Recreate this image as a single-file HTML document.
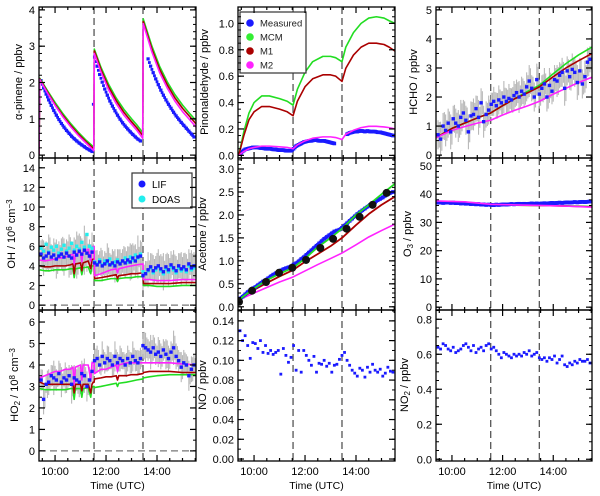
<!DOCTYPE html>
<html><head><meta charset="utf-8">
<style>
html,body{margin:0;padding:0;background:#fff;}
svg{display:block;font-family:"Liberation Sans",sans-serif;}
</style></head>
<body>
<svg id="chart" width="600" height="496" viewBox="0 0 600 496" xmlns="http://www.w3.org/2000/svg"></svg>
<script>
// ---------- data ----------
const gridT0 = 9.45, gridDt = 0.1; // measured series sampling (hours)
const injTimes = [11.53, 13.45];
const xTicks = [10, 12, 14];
const xTickLabels = ["10:00", "12:00", "14:00"];

// alpha-pinene
const apT = [9.37,9.4,9.7,10.0,10.3,10.6,10.9,11.2,11.52,11.54,11.8,12.1,12.4,12.7,13.0,13.2,13.44,13.46,13.8,14.1,14.4,14.7,15.0,15.3,15.53];
const apMCM = [0,2.12,1.78,1.45,1.15,0.88,0.64,0.42,0.22,2.92,2.42,1.95,1.57,1.26,1.0,0.84,0.62,3.75,3.0,2.45,2.02,1.67,1.38,1.13,0.95];
const apM1 = [0,2.1,1.74,1.4,1.1,0.83,0.59,0.38,0.17,2.87,2.36,1.88,1.5,1.18,0.92,0.76,0.54,3.68,2.92,2.37,1.94,1.58,1.29,1.05,0.86];
const apM2 = [0,2.08,1.71,1.37,1.06,0.79,0.55,0.34,0.12,2.8,2.29,1.8,1.42,1.1,0.85,0.69,0.46,3.62,2.84,2.28,1.85,1.49,1.2,0.96,0.77];
const apMeas = [2.05,1.85,1.68,1.52,1.37,1.23,1.1,0.98,0.87,0.77,0.68,0.6,0.52,0.45,0.39,0.33,0.28,0.23,0.18,0.14,0.1,
 2.7,2.45,2.22,2.01,1.82,1.65,1.49,1.35,1.22,1.1,0.99,0.89,0.8,0.72,0.64,0.57,0.5,0.44,0.39,
 null,null,2.65,2.45,2.27,2.1,1.94,1.79,1.65,1.52,1.4,1.29,1.18,1.08,0.99,0.9,0.82,0.74,0.66,0.58,0.5];

// OH / HO2 models
const mT = [9.4,9.6,9.8,10.0,10.2,10.4,10.6,10.7,10.75,10.8,11.0,11.05,11.1,11.3,11.4,11.45,11.5,11.53,11.55,11.8,12.0,12.2,12.4,12.45,12.5,12.8,13.0,13.2,13.45,13.47,13.7,14.0,14.5,15.0,15.53];
const ohM2 = [4.6,4.5,4.6,4.7,4.8,4.9,5.1,5.2,4.2,5.2,5.4,4.4,5.4,5.7,4.5,5.9,6.0,6.0,3.0,3.2,3.4,3.6,3.7,3.3,3.7,3.9,4.0,4.1,4.2,2.6,2.6,2.5,2.5,2.6,2.6];
const ohM1 = [4.0,3.9,3.9,4.0,4.0,4.0,4.1,4.2,3.2,4.2,4.3,3.5,4.3,4.5,3.7,4.6,4.7,4.7,2.7,2.8,2.9,3.0,3.1,2.7,3.0,3.1,3.2,3.2,3.3,2.2,2.2,2.2,2.2,2.3,2.3];
const ohMCM = [3.6,3.5,3.5,3.6,3.6,3.6,3.7,3.7,2.8,3.7,3.8,3.1,3.8,3.9,3.2,4.0,4.0,4.0,2.5,2.5,2.6,2.7,2.7,2.4,2.7,2.8,2.8,2.9,2.9,2.0,2.0,1.9,1.9,2.0,2.0];
const ohLIF = [5.2,4.8,5.0,5.3,4.9,5.1,4.7,5.0,5.2,4.9,5.3,5.0,4.8,5.4,5.1,5.5,5.2,5.6,5.3,5.0,5.4,
 4.3,4.1,4.4,4.0,4.2,4.5,4.1,4.3,4.0,4.4,4.2,4.5,4.3,4.6,4.4,4.8,4.5,4.9,5.0,
 3.0,3.2,3.6,3.9,3.5,3.8,4.0,3.7,3.4,3.9,3.6,4.1,3.8,3.5,4.0,3.7,3.9,3.6,4.2,3.8,4.0];
const ohDOAS = [5.8,5.5,6.2,5.4,5.9,5.6,6.0,5.3,5.7,6.1,5.5,5.8,6.3,5.6,6.0,5.7,6.4,5.9,7.2,6.0,5.8,
 4.4,4.2,4.6,4.1,4.5,4.3,4.7,4.2,4.4,4.6,4.3,4.5,4.8,4.4,4.9,4.6,5.1,4.8,5.2,
 3.4,3.2,3.5,3.8,3.3,3.6,3.9,3.5,3.2,3.7,3.4,3.9,3.6,3.3,3.8,3.5,3.7,3.4,4.0,3.6,3.8];
const ohErr = [1.4,1.8,1.5,1.9,1.3,1.7,2.0,1.5,1.6,1.9,1.4,2.2,1.7,1.5,2.4,1.8,1.6,2.5,1.9,1.7,2.0,
 1.2,1.5,1.1,1.6,1.3,1.8,1.2,1.4,1.7,1.3,1.5,1.2,1.6,1.4,1.9,1.5,1.7,2.2,1.6,
 1.5,1.3,1.8,1.4,1.6,1.2,1.7,1.5,1.9,1.3,1.6,1.4,1.8,1.5,1.3,1.7,1.4,1.6,1.5,1.8,1.4];

const ho2M2 = [3.4,3.5,3.6,3.7,3.7,3.8,3.8,3.9,3.1,3.9,4.0,3.3,4.0,4.0,3.3,4.1,4.1,4.1,3.6,3.8,3.8,3.9,4.0,3.7,4.0,4.1,4.1,4.1,4.1,4.1,4.1,4.1,4.1,4.05,4.0];
const ho2M1 = [3.2,3.1,3.1,3.1,3.1,3.1,3.1,3.1,2.7,3.1,3.1,2.8,3.1,3.1,2.7,3.1,3.2,3.2,3.35,3.4,3.45,3.45,3.5,3.3,3.5,3.5,3.55,3.55,3.6,3.65,3.7,3.7,3.7,3.65,3.65];
const ho2MCM = [2.9,2.85,2.85,2.85,2.85,2.85,2.9,2.9,2.4,2.9,2.9,2.5,2.9,2.95,2.5,2.95,3.0,3.0,2.95,3.0,3.05,3.1,3.15,3.0,3.15,3.2,3.25,3.3,3.35,3.4,3.45,3.5,3.55,3.55,3.55];
const ho2Meas = [3.3,2.4,3.1,3.2,3.5,3.4,3.3,3.6,3.2,3.4,3.3,3.5,3.1,3.4,3.3,3.2,3.6,3.5,3.0,3.3,3.7,
 4.2,4.3,4.0,4.4,4.1,4.3,4.2,4.0,4.4,4.1,4.3,4.2,4.0,4.3,4.1,4.4,4.2,4.1,4.3,
 4.9,4.8,4.7,4.6,4.8,4.5,4.6,4.4,4.7,4.5,4.3,4.6,4.8,4.4,4.2,3.9,4.1,4.0,3.5,3.8,4.0];
const ho2Err = [0.5,0.7,0.4,0.6,0.5,0.8,0.5,0.6,0.7,0.4,0.6,0.5,0.9,0.6,0.5,0.7,0.6,0.8,0.7,0.6,0.5,
 0.5,0.6,0.4,0.7,0.5,0.6,0.4,0.5,0.7,0.5,0.6,0.4,0.5,0.6,0.5,0.7,0.5,0.6,0.5,
 0.6,0.7,0.5,0.8,0.6,0.5,0.7,0.6,0.5,0.7,0.6,0.5,0.8,0.6,0.5,0.7,0.6,0.5,0.7,0.6,0.5];

// pinonaldehyde
const pnT = [9.4,9.6,9.8,10.0,10.3,10.6,11.0,11.3,11.53,11.7,12.0,12.3,12.7,13.0,13.2,13.45,13.6,13.9,14.2,14.5,14.8,15.1,15.3,15.53];
const pnMCM = [0,0.18,0.32,0.4,0.45,0.45,0.43,0.41,0.38,0.5,0.63,0.71,0.75,0.75,0.74,0.71,0.82,0.93,1.0,1.04,1.05,1.04,1.02,1.0];
const pnM1 = [0,0.15,0.27,0.33,0.37,0.37,0.35,0.33,0.3,0.41,0.52,0.58,0.61,0.61,0.6,0.56,0.66,0.76,0.82,0.85,0.85,0.84,0.82,0.79];
const pnM2 = [0,0.03,0.05,0.06,0.07,0.07,0.065,0.06,0.05,0.08,0.11,0.13,0.14,0.14,0.135,0.12,0.16,0.19,0.21,0.22,0.22,0.215,0.21,0.2];
const pnMeas = [0.01,0.03,0.045,0.05,0.055,0.06,0.06,0.06,0.055,0.055,0.05,0.05,0.05,0.045,0.045,0.04,0.04,0.04,0.035,0.035,0.035,
 0.05,0.07,0.08,0.09,0.1,0.105,0.11,0.11,0.115,0.115,0.11,0.11,0.11,0.105,0.1,0.095,0.09,null,null,
 null,null,0.16,0.17,0.175,0.18,0.18,0.185,0.185,0.18,0.185,0.18,0.18,0.18,0.175,0.175,0.17,0.165,0.16,0.155,0.15];

// acetone
const acT = [9.4,10.0,10.5,11.0,11.53,12.0,12.5,13.0,13.45,14.0,14.5,15.0,15.53];
const acMCM = [0.15,0.4,0.58,0.72,0.85,1.05,1.3,1.5,1.7,2.0,2.22,2.45,2.68];
const acM1 = [0.15,0.37,0.52,0.66,0.8,0.98,1.15,1.32,1.5,1.78,2.02,2.22,2.4];
const acM2 = [0.15,0.3,0.42,0.54,0.65,0.78,0.92,1.05,1.17,1.35,1.52,1.66,1.8];
const acMeas = [0.18,0.22,0.27,0.32,0.36,0.4,0.43,0.47,0.51,0.55,0.58,0.62,0.66,0.7,0.73,0.76,0.79,0.82,0.84,0.86,0.88,
 0.92,0.95,0.99,1.04,1.08,1.13,1.18,1.23,1.28,1.33,1.38,1.43,1.48,1.52,1.56,1.6,1.64,1.66,1.68,
 1.72,1.77,1.82,1.87,1.92,1.97,2.02,2.06,2.1,2.14,2.18,2.22,2.25,2.28,2.32,2.35,2.38,2.42,2.45,2.48,2.5];
const acRefT = [9.41,9.92,10.47,10.98,11.5,12.04,12.6,13.1,13.63,14.14,14.65,15.2];
const acRef = [0.11,0.35,0.54,0.74,0.85,1.02,1.28,1.48,1.7,1.96,2.22,2.48];

// NO, NO2
const noMeas = [0.13,0.12,0.125,0.115,0.102,0.118,0.117,0.112,0.12,0.108,0.115,0.107,0.11,0.106,0.108,0.11,0.086,0.112,0.105,0.098,0.103,0.115,0.09,0.11,0.088,0.11,0.105,0.1,0.095,0.104,0.088,0.097,0.096,0.1,0.094,0.097,0.088,0.095,0.096,0.101,0.105,0.108,0.1,0.095,0.09,0.087,0.084,0.092,0.09,0.083,0.093,0.088,0.096,0.09,0.088,0.091,0.084,0.087,0.093,0.089,0.088];
const no2Meas = [0.64,0.63,0.66,0.65,0.63,0.62,0.64,0.61,0.62,0.63,0.65,0.66,0.64,0.62,0.65,0.61,0.63,0.64,0.62,0.65,0.66,0.63,0.64,0.62,0.6,0.58,0.61,0.6,0.59,0.58,0.6,0.59,0.6,0.59,0.61,0.6,0.62,0.59,0.6,0.61,0.58,0.57,0.58,0.56,0.58,0.57,0.59,0.55,0.57,0.59,0.54,0.53,0.55,0.54,0.56,0.55,0.57,0.56,0.56,0.57,0.55];

// HCHO
const hcT = [9.37,10.0,10.5,11.0,11.53,12.0,12.5,13.0,13.45,14.0,14.5,15.0,15.53];
const hcMCM = [0.6,0.92,1.1,1.28,1.45,1.7,1.95,2.2,2.4,2.8,3.15,3.45,3.72];
const hcM1 = [0.6,0.92,1.1,1.28,1.45,1.7,1.95,2.15,2.35,2.7,3.0,3.25,3.5];
const hcM2 = [0.6,0.85,0.98,1.1,1.2,1.38,1.55,1.7,1.85,2.1,2.3,2.5,2.68];
const hcMeas = [0.7,0.55,1.0,0.85,1.1,0.8,1.25,1.1,1.0,1.3,1.45,1.2,0.8,1.35,1.4,1.6,1.3,1.8,1.15,1.4,1.55,
 1.75,1.85,1.7,1.9,1.8,2.0,1.85,1.95,1.9,2.05,2.15,2.0,2.2,2.1,2.35,2.55,2.3,2.0,2.6,
 2.1,2.3,2.45,2.0,2.4,2.2,2.6,2.55,2.75,2.85,2.3,2.9,2.7,2.95,2.85,2.5,2.9,2.45,2.7,3.2,3.3];
const hcErr = [0.5,0.6,0.45,0.55,0.5,0.6,0.45,0.5,0.55,0.6,0.45,0.5,0.6,0.5,0.55,0.45,0.6,0.5,0.55,0.45,0.5,
 0.4,0.5,0.45,0.5,0.4,0.55,0.45,0.5,0.4,0.5,0.45,0.55,0.5,0.45,0.5,0.55,0.45,0.5,0.55,
 0.5,0.45,0.55,0.5,0.6,0.45,0.5,0.55,0.45,0.5,0.6,0.5,0.45,0.55,0.5,0.6,0.45,0.5,0.55,0.5,0.45];

// O3
const o3T = [9.37,10.5,11.53,12.5,13.45,14.5,15.53];
const o3MCM = [37.4,37.1,36.3,36.1,36.0,35.9,35.6];
const o3M1 = [37.5,37.2,36.3,36.1,36.0,35.8,35.5];
const o3M2 = [37.6,37.3,36.4,36.2,36.0,35.8,35.4];
const o3Meas = [37.0,37.1,36.9,37.0,37.1,36.9,37.0,36.8,36.9,36.7,36.8,36.6,36.7,36.5,36.6,36.4,36.5,36.3,36.4,36.2,36.3,
 36.2,36.1,36.3,36.2,36.3,36.4,36.3,36.4,36.5,36.4,36.5,36.6,36.5,36.6,36.5,36.6,36.7,36.6,36.7,
 36.6,36.7,36.8,36.7,36.8,36.9,36.8,36.9,37.0,36.9,37.0,37.1,37.0,37.1,37.2,37.1,37.2,37.3,37.2,37.3,37.4];

// ---------- drawing ----------
const svg = document.getElementById('chart');
const NS = 'http://www.w3.org/2000/svg';
const T_MIN = 9.37, T_MAX = 15.53;
const GREEN = '#22dd22', RED = '#aa0000', MAG = '#ff22ff', BLUE = '#1a1aff', CYAN = '#22eeee', GRAY = '#b8b8b8';

function mk(tag, attrs, parent) {
  const e = document.createElementNS(NS, tag);
  for (const k in attrs) e.setAttribute(k, attrs[k]);
  (parent || svg).appendChild(e);
  return e;
}
function gridTime(i) { return gridT0 + i * gridDt; }

function makePanel(name, left, top, w, h, ymin, ymax, yticks, yfmt, yminor, showX) {
  const g = mk('g', {});
  
  
  const xs = t => left + (t - T_MIN) / (T_MAX - T_MIN) * w;
  const ys = v => top + h - (v - ymin) / (ymax - ymin) * h;
  const p = { g, xs, ys, left, top, w, h, name };
  const cp = mk('clipPath', { id: 'clip-' + name }, g);
  mk('rect', { x: left, y: top, width: w, height: h }, cp);
  p.plot = mk('g', { 'clip-path': 'url(#clip-' + name + ')' }, g);
  
  
  injTimes.forEach(t => {
    const l = mk('line', { x1: xs(t), x2: xs(t), y1: top, y2: top + h, stroke: '#555', 'stroke-width': 1.3, 'stroke-dasharray': '7,4' }, p.plot);
    
    
  });
  p.finish = () => {
    const ax = mk('g', {}, g);
    
    
    mk('rect', { x: left, y: top, width: w, height: h, fill: 'none', stroke: '#000', 'stroke-width': 1.3 }, ax);
    for (let t = 9.5; t <= 15.5; t += 0.5) {
      const major = xTicks.includes(t);
      const L = major ? 6 : 3;
      mk('line', { x1: xs(t), x2: xs(t), y1: top + h, y2: top + h - L, stroke: '#000', 'stroke-width': 1.2 }, ax);
      mk('line', { x1: xs(t), x2: xs(t), y1: top, y2: top + L, stroke: '#000', 'stroke-width': 1.2 }, ax);
    }
    if (showX) {
      xTicks.forEach((t, i) => {
        const tx = mk('text', { x: xs(t), y: top + h + 14, 'font-size': 11, 'text-anchor': 'middle' }, ax);
        tx.textContent = xTickLabels[i];
        
        
      });
      const xt = mk('text', { x: left + w / 2, y: top + h + 28, 'font-size': 10.5, 'text-anchor': 'middle' }, ax);
      xt.textContent = 'Time (UTC)';
      
      
    }
    for (let v = yticks[0]; v <= ymax + 1e-9; v += yminor) {
      if (v < ymin) continue;
      mk('line', { x1: left, x2: left + 3, y1: ys(v), y2: ys(v), stroke: '#000', 'stroke-width': 1 }, ax);
      mk('line', { x1: left + w, x2: left + w - 3, y1: ys(v), y2: ys(v), stroke: '#000', 'stroke-width': 1 }, ax);
    }
    yticks.forEach(v => {
      mk('line', { x1: left, x2: left + 6, y1: ys(v), y2: ys(v), stroke: '#000', 'stroke-width': 1.2 }, ax);
      mk('line', { x1: left + w, x2: left + w - 6, y1: ys(v), y2: ys(v), stroke: '#000', 'stroke-width': 1.2 }, ax);
      const tx = mk('text', { x: left - 4, y: ys(v) + 4, 'font-size': 11, 'text-anchor': 'end' }, ax);
      tx.textContent = yfmt(v);
      
      
    });
  };
  return p;
}

function line(p, ts, vs, color, nm, width) {
  let d = '';
  for (let i = 0; i < ts.length && i < vs.length; i++) {
    if (vs[i] == null) continue;
    d += (d ? 'L' : 'M') + p.xs(ts[i]).toFixed(2) + ',' + p.ys(vs[i]).toFixed(2);
  }
  const e = mk('path', { d, fill: 'none', stroke: color, 'stroke-width': width || 1.6, 'stroke-linejoin': 'round' }, p.plot);
  
  
}
function dots(p, vs, color, nm, r) {
  const g = mk('g', { fill: color }, p.plot);
  
  
  vs.forEach((v, i) => {
    if (v == null) return;
    const t = gridTime(i);
    mk('rect', { x: p.xs(t) - r, y: p.ys(v) - r, width: 2 * r, height: 2 * r }, g);
    if (i + 1 < vs.length && vs[i + 1] != null) {
      const t2 = t + gridDt / 2, v2 = (v + vs[i + 1]) / 2;
      mk('rect', { x: p.xs(t2) - r, y: p.ys(v2) - r, width: 2 * r, height: 2 * r }, g);
    }
  });
}
function sparseDots(p, vs, color, nm, r) {
  const g = mk('g', { fill: color }, p.plot);
  
  
  vs.forEach((v, i) => {
    if (v == null) return;
    mk('rect', { x: p.xs(gridTime(i)) - r, y: p.ys(v) - r, width: 2 * r, height: 2 * r }, g);
  });
}
function errbars(p, vs, errs, nm) {
  const g = mk('g', { stroke: GRAY, 'stroke-width': 1.1 }, p.plot);
  
  
  vs.forEach((v, i) => {
    if (v == null) return;
    const x = p.xs(gridTime(i));
    mk('line', { x1: x, x2: x, y1: p.ys(v - errs[i]), y2: p.ys(v + errs[i]) }, g);
    const x2 = p.xs(gridTime(i) + gridDt / 2);
    const e2 = errs[(i + 3) % errs.length] * 0.8;
    mk('line', { x1: x2, x2: x2, y1: p.ys(v - e2), y2: p.ys(v + e2) }, g);
  });
}
function zeroLine(p) {
  const l = mk('line', { x1: p.left, x2: p.left + p.w, y1: p.ys(0), y2: p.ys(0), stroke: '#777', 'stroke-width': 1.2, 'stroke-dasharray': '7,4' }, p.plot);
  
  
}
function ytitle(x, cy, parts, nm) {
  const t = mk('text', { x: 0, y: 0, 'font-size': 11, 'text-anchor': 'middle', transform: `translate(${x},${cy}) rotate(-90)` });
  
  
  parts.forEach(([s, kind]) => {
    const ts = mk('tspan', {}, t);
    if (kind === 'sub') { ts.setAttribute('baseline-shift', '-25%'); ts.setAttribute('font-size', 8); }
    if (kind === 'sup') { ts.setAttribute('baseline-shift', '40%'); ts.setAttribute('font-size', 8); }
    ts.textContent = s;
  });
}
const f0 = v => String(Math.round(v));
const f1 = v => v.toFixed(1);
const f2 = v => v.toFixed(2);

const C = [39, 238, 436], W = [157, 157, 156];
const R = [[7, 151], [158, 152], [310, 151]];

// alpha-pinene
let p = makePanel('alpha-pinene', C[0], R[0][0], W[0], R[0][1], -0.08, 4.08, [0, 1, 2, 3, 4], f0, 0.2, false);
sparseDots(p, apMeas, BLUE, 'alpha-pinene-measured', 1.6);
dots(p, apMeas, BLUE, 'alpha-pinene-measured-dense', 1.4);
line(p, apT, apMCM, GREEN, 'alpha-pinene-mcm');
line(p, apT, apM1, RED, 'alpha-pinene-m1');
line(p, apT, apM2, MAG, 'alpha-pinene-m2');
p.finish();
ytitle(22, 7 + 75, [['α-pinene  /  ppbv']], 'alpha-pinene-y-title');

// OH
p = makePanel('oh', C[0], R[1][0], W[0], R[1][1], -0.5, 15, [0, 2, 4, 6, 8, 10, 12, 14], f0, 1, false);
zeroLine(p);
errbars(p, ohLIF, ohErr, 'oh-error-bars');
line(p, mT, ohMCM, GREEN, 'oh-mcm');
line(p, mT, ohM1, RED, 'oh-m1');
line(p, mT, ohM2, MAG, 'oh-m2');
sparseDots(p, ohDOAS, CYAN, 'oh-doas', 1.7);
sparseDots(p, ohLIF, BLUE, 'oh-lif', 1.7);
(function () {
  const lg = mk('g', {}, p.g);
  
  
  mk('rect', { x: 132, y: 173, width: 60, height: 35, fill: '#fff', stroke: '#333', 'stroke-width': 1.2 }, lg);
  const items = [['LIF', BLUE], ['DOAS', CYAN]];
  items.forEach((it, i) => {
    const e = mk('g', {}, lg);
    
    
    mk('circle', { cx: 142, cy: 184 + i * 15, r: 3.5, fill: it[1] }, e);
    const t = mk('text', { x: 152, y: 188 + i * 15, 'font-size': 10 }, e);
    t.textContent = it[0];
  });
})();
p.finish();
ytitle(15, 158 + 76, [['OH  /  10'], ['6', 'sup'], [' cm'], ['−3', 'sup']], 'oh-y-title');

// HO2
p = makePanel('ho2', C[0], R[2][0], W[0], R[2][1], -0.47, 6.56, [0, 1, 2, 3, 4, 5, 6], f0, 0.5, true);
zeroLine(p);
errbars(p, ho2Meas, ho2Err, 'ho2-error-bars');
line(p, mT, ho2MCM, GREEN, 'ho2-mcm');
line(p, mT, ho2M1, RED, 'ho2-m1');
line(p, mT, ho2M2, MAG, 'ho2-m2');
sparseDots(p, ho2Meas, BLUE, 'ho2-measured', 1.7);
p.finish();
ytitle(18, 310 + 75, [['HO'], ['2', 'sub'], ['  /  10'], ['8', 'sup'], [' cm'], ['−3', 'sup']], 'ho2-y-title');

// Pinonaldehyde
p = makePanel('pinonaldehyde', C[1], R[0][0], W[1], R[0][1], -0.02, 1.124, [0, 0.2, 0.4, 0.6, 0.8, 1.0], f1, 0.05, false);
dots(p, pnMeas, BLUE, 'pinonaldehyde-measured', 1.8);
line(p, pnT, pnMCM, GREEN, 'pinonaldehyde-mcm');
line(p, pnT, pnM1, RED, 'pinonaldehyde-m1');
line(p, pnT, pnM2, MAG, 'pinonaldehyde-m2');
(function () {
  const lg = mk('g', {}, p.g);
  
  
  mk('rect', { x: 240, y: 12, width: 66, height: 61, fill: '#fff', stroke: '#333', 'stroke-width': 1.2 }, lg);
  const items = [['Measured', BLUE], ['MCM', '#33ee33'], ['M1', RED], ['M2', MAG]];
  items.forEach((it, i) => {
    const e = mk('g', {}, lg);
    
    
    mk('circle', { cx: 250, cy: 23 + i * 14, r: 3.8, fill: it[1] }, e);
    const t = mk('text', { x: 260, y: 26.5 + i * 14, 'font-size': 9.5, fill: '#222' }, e);
    t.textContent = it[0];
  });
})();
p.finish();
ytitle(208, 7 + 75, [['Pinonaldehyde  /  ppbv']], 'pinonaldehyde-y-title');

// Acetone
p = makePanel('acetone', C[1], R[1][0], W[1], R[1][1], -0.07, 3.24, [0, 0.5, 1.0, 1.5, 2.0, 2.5, 3.0], f1, 0.1, false);
line(p, acT, acM2, MAG, 'acetone-m2');
line(p, acT, acM1, RED, 'acetone-m1', 1.8);
sparseDots(p, acMeas, BLUE, 'acetone-measured', 1.8);
dots(p, acMeas, BLUE, 'acetone-measured-dense', 1.6);
line(p, acT, acMCM, GREEN, 'acetone-mcm', 1.8);
(function () {
  const g = mk('g', { fill: '#111' }, p.plot);
  
  
  acRefT.forEach((t, i) => mk('circle', { cx: p.xs(t), cy: p.ys(acRef[i]), r: 4 }, g));
})();
p.finish();
ytitle(206, 158 + 76, [['Acetone  /  ppbv']], 'acetone-y-title');

// NO
p = makePanel('no', C[1], R[2][0], W[1], R[2][1], -0.002, 0.151, [0, 0.02, 0.04, 0.06, 0.08, 0.10, 0.12, 0.14], f2, 0.01, true);
sparseDots(p, noMeas, BLUE, 'no-measured', 1.4);
p.finish();
ytitle(206, 310 + 75, [['NO  /  ppbv']], 'no-y-title');

// HCHO
p = makePanel('hcho', C[2], R[0][0], W[2], R[0][1], -0.1, 5.1, [0, 1, 2, 3, 4, 5], f0, 0.5, false);
errbars(p, hcMeas, hcErr, 'hcho-error-bars');
line(p, hcT, hcMCM, GREEN, 'hcho-mcm');
line(p, hcT, hcM1, RED, 'hcho-m1');
line(p, hcT, hcM2, MAG, 'hcho-m2');
sparseDots(p, hcMeas, BLUE, 'hcho-measured', 1.7);
p.finish();
ytitle(417, 7 + 75, [['HCHO  /  ppbv']], 'hcho-y-title');

// O3
p = makePanel('o3', C[2], R[1][0], W[2], R[1][1], -1, 52.8, [0, 10, 20, 30, 40, 50], f0, 2, false);
line(p, o3T, o3MCM, GREEN, 'o3-mcm');
line(p, o3T, o3M1, RED, 'o3-m1');
sparseDots(p, o3Meas, BLUE, 'o3-measured', 1.8);
dots(p, o3Meas, BLUE, 'o3-measured-dense', 1.8);
line(p, o3T, o3M2, MAG, 'o3-m2');
p.finish();
ytitle(411, 158 + 76, [['O'], ['3', 'sub'], ['  /  ppbv']], 'o3-y-title');

// NO2
p = makePanel('no2', C[2], R[2][0], W[2], R[2][1], -0.01, 0.853, [0, 0.2, 0.4, 0.6, 0.8], f1, 0.05, true);
sparseDots(p, no2Meas, BLUE, 'no2-measured', 1.4);
p.finish();
ytitle(408, 310 + 75, [['NO'], ['2', 'sub'], ['  /  ppbv']], 'no2-y-title');
</script>
</body></html>
